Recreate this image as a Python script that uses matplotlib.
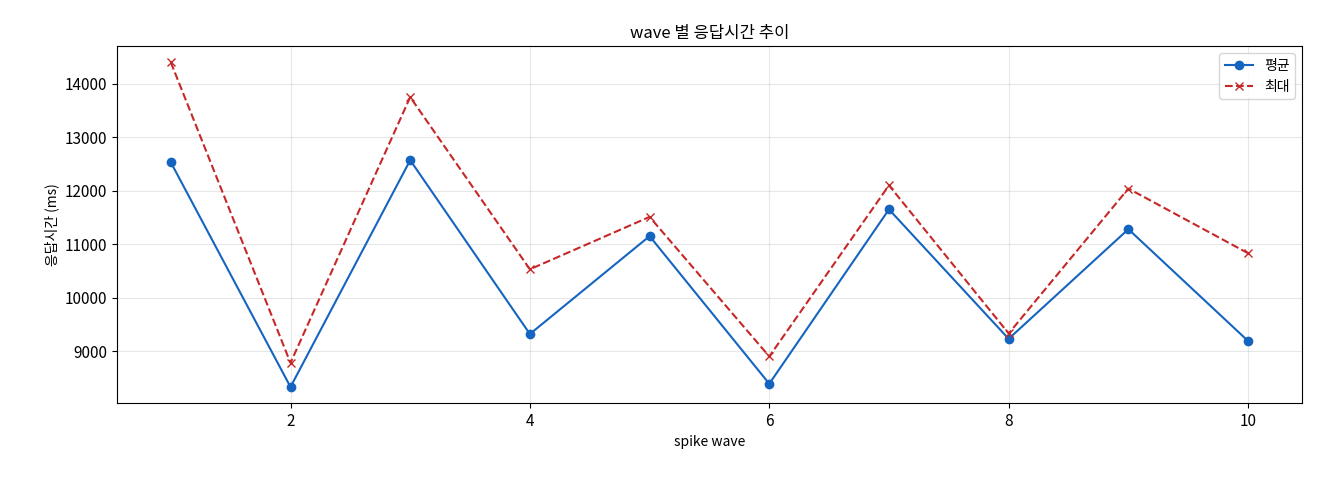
import matplotlib
matplotlib.use("Agg")
import matplotlib.pyplot as plt

plt.rcParams['font.family'] = ['Noto Sans CJK KR', 'DejaVu Sans']
plt.rcParams['xtick.labelsize'] = 11
plt.rcParams['ytick.labelsize'] = 11

waves = [1, 2, 3, 4, 5, 6, 7, 8, 9, 10]
mean_ms = [12530, 8330, 12570, 9320, 11150, 8390, 11650, 9230, 11280, 9190]
max_ms = [14400, 8780, 13750, 10530, 11510, 8900, 12100, 9330, 12040, 10830]

fig = plt.figure(figsize=(13.2, 4.8), dpi=100)
ax = fig.add_axes([0.0886, 0.16, 0.8977, 0.744])
ax.plot(waves, mean_ms, '-o', color='#1565c0', label='평균', markersize=6)
ax.plot(waves, max_ms, '--x', color='#c62828', label='최대', markersize=6)
ax.set_title('wave 별 응답시간 추이', fontsize=12)
ax.set_xlabel('spike wave')
ax.set_ylabel('응답시간 (ms)')
ax.grid(True, alpha=0.3)
ax.legend(loc='upper right')
fig.savefig('out.png', dpi=100)
